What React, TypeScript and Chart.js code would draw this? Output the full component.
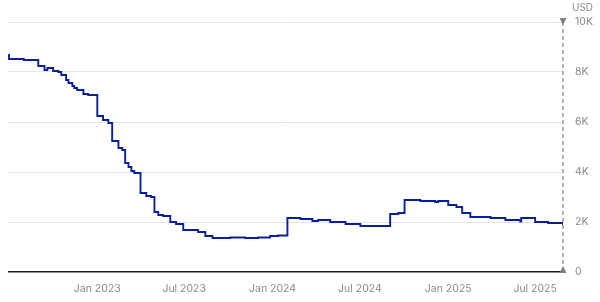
import React, { useEffect, useRef } from "react";
import { Chart, registerables } from "chart.js";

Chart.register(...registerables);

const dates = [
  "2022-06-29", "2022-07-01", "2022-08-01", "2022-08-31", "2022-09-13", "2022-09-19",
  "2022-10-01", "2022-10-12", "2022-10-18", "2022-10-28", "2022-11-02", "2022-11-10",
  "2022-11-14", "2022-11-20", "2022-12-03", "2022-12-13", "2023-01-01", "2023-01-13",
  "2023-01-24", "2023-02-01", "2023-02-14", "2023-02-22", "2023-02-28", "2023-03-07",
  "2023-03-13", "2023-03-19", "2023-04-01", "2023-04-13", "2023-04-23", "2023-04-30",
  "2023-05-08", "2023-05-18", "2023-06-02", "2023-06-14", "2023-06-29", "2023-07-30",
  "2023-08-14", "2023-08-29", "2023-10-05", "2023-11-05", "2023-12-02", "2023-12-27",
  "2024-01-13", "2024-02-01", "2024-02-28", "2024-03-24", "2024-04-05", "2024-04-30",
  "2024-06-01", "2024-07-02", "2024-09-02", "2024-09-19", "2024-10-02", "2024-11-04",
  "2024-12-05", "2024-12-11", "2025-01-01", "2025-01-18", "2025-01-30", "2025-02-16",
  "2025-03-30", "2025-04-30", "2025-05-31", "2025-06-02", "2025-07-01", "2025-07-28",
  "2025-08-28",
];

const values = [
  8680, 8520, 8480, 8240, 8080, 8160,
  8040, 8000, 7880, 7680, 7560, 7440,
  7360, 7280, 7120, 7080, 6240, 6080,
  5960, 5240, 4960, 4880, 4360, 4200,
  4040, 3960, 3160, 3040, 3000, 2400,
  2280, 2240, 2000, 1920, 1680, 1600,
  1440, 1360, 1380, 1360, 1380, 1440,
  1460, 2160, 2120, 2040, 2080, 2000,
  1920, 1840, 2320, 2360, 2880, 2840,
  2800, 2840, 2680, 2600, 2360, 2200,
  2160, 2080, 2020, 2160, 2000, 1960,
  1880,
];

const xTickDates = ["2023-01-01", "2023-07-01", "2024-01-01", "2024-07-01", "2025-01-01", "2025-07-01"];
const xTickLabels = ["Jan 2023", "Jul 2023", "Jan 2024", "Jul 2024", "Jan 2025", "Jul 2025"];
const yTicks = [0, 2000, 4000, 6000, 8000, 10000];
const yTickLabels = ["0", "2K", "4K", "6K", "8K", "10K"];
const xStart = "2022-06-29";
const xEnd = "2025-08-28";
const unitLabel = "USD";

const FONT = "Inter, 'Noto Sans', sans-serif";
const LABEL_COLOR = "#8a8a8a";

const markerPlugin = {
  id: "markers",
  afterDraw(chart: any) {
    const { ctx, chartArea } = chart;
    const x = chartArea.right;
    ctx.save();
    ctx.strokeStyle = "#9a9a9a";
    ctx.lineWidth = 1.5;
    ctx.setLineDash([4, 3]);
    ctx.beginPath();
    ctx.moveTo(x, chartArea.top);
    ctx.lineTo(x, chartArea.bottom);
    ctx.stroke();
    ctx.setLineDash([]);
    ctx.fillStyle = "#808080";
    ctx.beginPath();
    ctx.moveTo(x - 3.5, chartArea.top - 4);
    ctx.lineTo(x + 3.5, chartArea.top - 4);
    ctx.lineTo(x, chartArea.top + 3);
    ctx.closePath();
    ctx.fill();
    ctx.beginPath();
    ctx.moveTo(x - 3.5, chartArea.bottom + 1);
    ctx.lineTo(x + 3.5, chartArea.bottom + 1);
    ctx.lineTo(x, chartArea.bottom - 6);
    ctx.closePath();
    ctx.fill();
    ctx.fillStyle = LABEL_COLOR;
    ctx.font = `10px ${FONT}`;
    ctx.textAlign = "left";
    ctx.textBaseline = "middle";
    ctx.fillText(unitLabel, x + 9, 8);
    ctx.restore();
  },
};

export default function App() {
  const ref = useRef<HTMLCanvasElement>(null);
  useEffect(() => {
    if (!ref.current) return;
    const points = dates.map((d, i) => ({ x: Date.parse(d), y: values[i] }));
    const tickVals = xTickDates.map((d) => Date.parse(d));
    const chart = new Chart(ref.current, {
      type: "line",
      data: {
        datasets: [
          {
            data: points,
            borderColor: "#0a1f9c",
            borderWidth: 1.9,
            pointRadius: 0,
            stepped: "before",
            fill: false,
          },
        ],
      },
      options: {
        animation: false,
        responsive: false,
        maintainAspectRatio: false,
        layout: { padding: { left: 8, top: 22, right: 0, bottom: 0 } },
        plugins: { legend: { display: false }, tooltip: { enabled: false } },
        scales: {
          x: {
            type: "linear",
            min: Date.parse(xStart),
            max: Date.parse(xEnd),
            grid: { display: false, drawTicks: false },
            border: { display: false },
            afterBuildTicks: (scale: any) => {
              scale.ticks = tickVals.map((v) => ({ value: v }));
            },
            afterFit: (scale: any) => {
              scale.height = 30;
            },
            ticks: {
              autoSkip: false,
              maxRotation: 0,
              padding: 11,
              color: LABEL_COLOR,
              font: { family: FONT, size: 10.5 },
              callback: (v: any) => {
                const i = tickVals.indexOf(Number(v));
                return i >= 0 ? xTickLabels[i] : "";
              },
            },
          },
          y: {
            position: "right",
            min: 0,
            max: 10000,
            afterBuildTicks: (scale: any) => {
              scale.ticks = yTicks.map((v) => ({ value: v }));
            },
            afterFit: (scale: any) => {
              scale.width = 37;
            },
            grid: {
              drawTicks: false,
              color: (c: any) => (c.tick && c.tick.value === 0 ? "#1a1a1a" : "#e4e4e4"),
              lineWidth: (c: any) => (c.tick && c.tick.value === 0 ? 1.5 : 1),
            },
            border: { display: false },
            ticks: {
              padding: 12,
              color: LABEL_COLOR,
              font: { family: FONT, size: 10.5 },
              callback: (v: any) => {
                const i = yTicks.indexOf(Number(v));
                return i >= 0 ? yTickLabels[i] : "";
              },
            },
          },
        },
      },
      plugins: [markerPlugin],
    });
    return () => chart.destroy();
  }, []);
  return (
    <div style={{ position: "absolute", left: 0, top: 0, width: 600, height: 302 }}>
      <canvas ref={ref} width={600} height={302} />
    </div>
  );
}
